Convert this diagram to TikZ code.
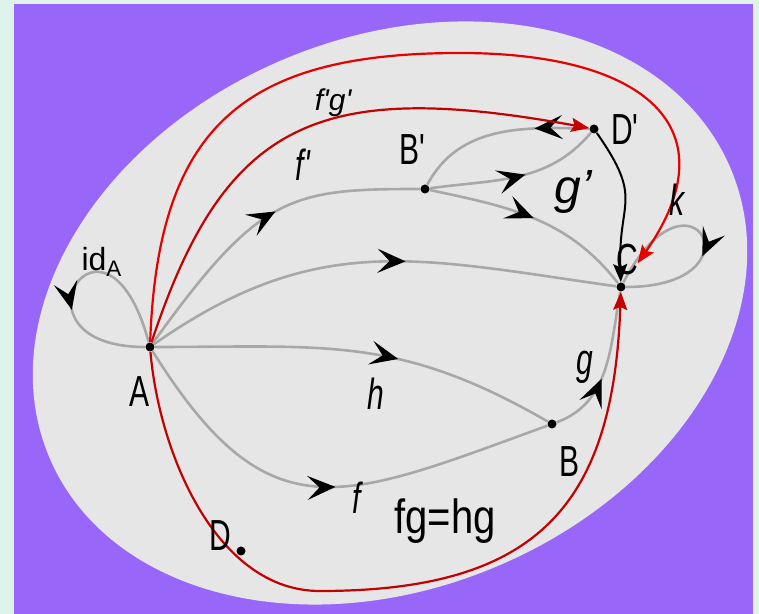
\documentclass[tikz,border=0pt]{standalone}
\usepackage{fontspec}
\usepackage{graphicx}
\setmainfont{Liberation Sans}
\usetikzlibrary{arrows.meta, decorations.markings}
\definecolor{mintbg}{HTML}{DEF3EC}
\definecolor{purplebg}{HTML}{9966FA}
\definecolor{ellgray}{HTML}{E6E6E6}
\definecolor{arrowgray}{HTML}{A8A8A8}
\definecolor{brightred}{HTML}{E60000}
\definecolor{darkred}{HTML}{C40000}
\newcommand{\apos}{\textquotesingle}
\newcommand{\tall}[1]{\scalebox{1}[1.45]{#1}}

\tikzset{
  dot/.style={circle, fill=black, inner sep=0pt, minimum size=4.5pt},
  lbl/.style={font=\fontsize{15}{18}\selectfont},
  ilbl/.style={font=\fontsize{15}{18}\selectfont\itshape},
  morph/.style={draw=arrowgray, line width=1.3pt},
  midarrow/.style={postaction={decorate, decoration={markings,
      mark=at position #1 with {\arrow[black]{Stealth[length=14pt,width=12pt,inset=6pt]}}}}},
  comp/.style={line width=1.1pt, -{Stealth[length=9pt,width=7pt,inset=1.5pt]}},
}

\begin{document}
\begin{tikzpicture}[x=0.5pt, y=0.5pt]
  % background
  \useasboundingbox (0,0) rectangle (759,614);
  \clip (0,0) rectangle (759,614);
  \fill[mintbg] (0,0) rectangle (759,614);
  \fill[purplebg] (14,0) rectangle (753,610);
  \fill[ellgray, rotate around={23:(390,301)}] (390,301) ellipse [x radius=370, y radius=275];

  % objects
  \node[dot] (A) at (150,267) {};
  \node[dot] (Bp) at (425,425) {};
  \node[dot] (Dp) at (594,485) {};
  \node[dot] (C) at (621,327) {};
  \node[dot] (B) at (552,190) {};
  \node[dot] (D) at (241,63) {};
  \coordinate (rtop) at (460,561);
  \coordinate (rbot) at (320,23);

  % morphisms
  \draw[morph, midarrow=0.55] (A) .. controls (260,420) and (290,425) .. (Bp);
  \draw[morph, midarrow=0.55] (Bp) to[out=8, in=230] (Dp);
  \draw[morph, midarrow=0.3] (Dp) to[out=178, in=62] (Bp);
  \draw[morph, midarrow=0.5] (Bp) to[out=-12, in=128] (C);
  \draw[morph, midarrow=0.56] (A) to[out=35, in=172, looseness=1.1] (C);
  \draw[morph, midarrow=0.6] (A) to[out=0, in=150, looseness=1.1] (B);
  \draw[morph, midarrow=0.52] (A) to[out=-58, in=200, looseness=1.4] (B);
  \draw[morph, midarrow=0.42] (B) to[out=20, in=-100] (C);
  \draw[morph, midarrow=0.62] (A) .. controls (105,433) and (0,267) .. (A);
  \draw[morph, midarrow=0.6] (C) .. controls (691,462) and (765,327) .. (C);

  % composites
  \draw[comp, brightred, shorten >=12pt] (A) to[out=88, in=180, looseness=1.3] (rtop)
    to[out=0, in=55, looseness=1.7] (C);
  \draw[comp, darkred] (A) .. controls (225,495) and (320,535) .. (Dp);
  \draw[comp, darkred] (A) to[out=-85, in=180, looseness=0.9] (rbot)
    to[out=0, in=-92, looseness=1.3] (C);
  \draw[comp, black, line width=1pt] (Dp) to[out=-55, in=92, looseness=1.4] (C);

  % labels
  \node[lbl] (lA) at (140,222) {\tall{A}};
  \node[lbl] (lBp) at (412,464) {\tall{B\apos}};
  \node[lbl] (lDp) at (625,484) {\tall{D\apos}};
  \node[lbl] (lC) at (627,354) {\tall{C}};
  \node[lbl] (lB) at (569,152) {\tall{B}};
  \node[lbl] (lD) at (220,78) {\tall{D}};
  \node[ilbl] (lfg) at (333,511) {f\apos g\apos};
  \node[ilbl] (lfp) at (303,449) {\tall{f\apos}};
  \node[ilbl, font=\fontsize{24}{28}\selectfont\itshape] (lgp) at (573,422) {g'};
  \node[ilbl] (lk) at (677,414) {\tall{k}};
  \node[lbl, font=\fontsize{16}{19}\selectfont] (lid) at (102,352) {id\textsubscript{A}};
  \node[ilbl] (lh) at (376,220) {\tall{h}};
  \node[ilbl] (lg) at (585,247) {\tall{g}};
  \node[ilbl] (lf) at (357,116) {\tall{f}};
  \node[lbl, font=\fontsize{20}{24}\selectfont] (lfghg) at (445,93) {\scalebox{1}[1.2]{fg=hg}};
\end{tikzpicture}
\end{document}
